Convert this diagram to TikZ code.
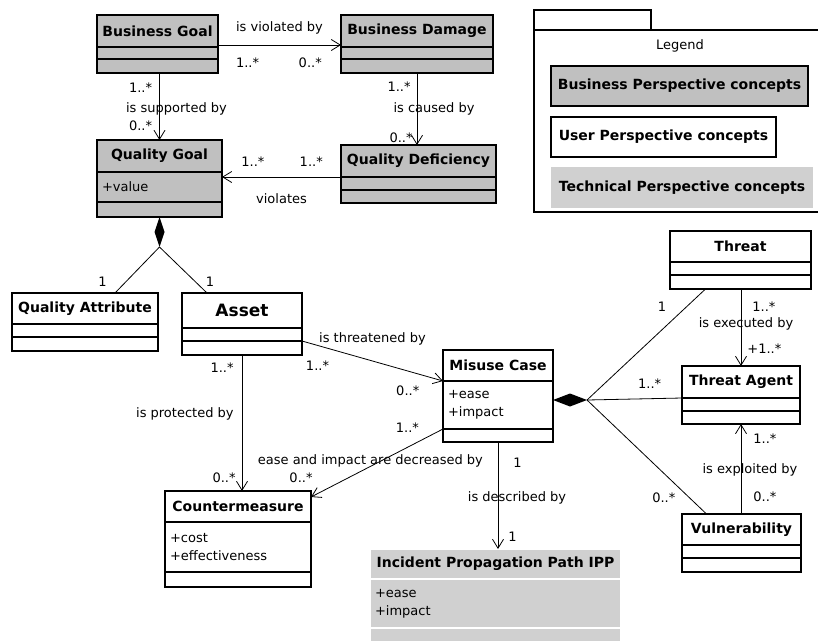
\documentclass[tikz,border=0pt]{standalone}
\usepackage{fontspec}
\setmainfont{DejaVu Sans}
\usetikzlibrary{arrows.meta,positioning,shapes.geometric}

\definecolor{bizgray}{RGB}{192,192,192}
\definecolor{techgray}{RGB}{208,208,208}

\begin{document}
\begin{tikzpicture}[x=1pt, y=-1pt, >={Straight Barb[length=9pt,width=11pt]},
    font=\fontsize{13}{15}\selectfont,
    cls/.style={draw, line width=1.2pt, anchor=north west, inner sep=0pt, outer sep=0pt,
      font=\fontsize{14}{16}\selectfont\bfseries},
    part/.style={draw, line width=1.2pt, inner sep=0pt, outer sep=0pt},
    attr/.style={part, inner xsep=5pt, align=left, font=\fontsize{13}{18}\selectfont},
    assoc/.style={line width=0.8pt},
    lbl/.style={inner sep=1pt},
    comp/.style={diamond, fill=black, inner sep=0pt, outer sep=0pt}]

  \useasboundingbox (0,0) rectangle (818,640);

  % business perspective
  \node[cls, fill=bizgray, minimum width=121pt, minimum height=32pt] (bgoal) at (97,15) {Business Goal};
  \node[part, fill=bizgray, minimum width=121pt, minimum height=12pt, below=0pt of bgoal] (bgoal1) {};
  \node[part, fill=bizgray, minimum width=121pt, minimum height=14pt, below=0pt of bgoal1] (bgoal2) {};

  \node[cls, fill=bizgray, minimum width=152pt, minimum height=32pt] (bdamage) at (341,15) {Business Damage};
  \node[part, fill=bizgray, minimum width=152pt, minimum height=12pt, below=0pt of bdamage] (bdamage1) {};
  \node[part, fill=bizgray, minimum width=152pt, minimum height=14pt, below=0pt of bdamage1] (bdamage2) {};

  \node[cls, fill=bizgray, minimum width=125pt, minimum height=32pt] (qgoal) at (97,140) {Quality Goal};
  \node[attr, fill=bizgray, text width=115pt, minimum height=30pt, below=0pt of qgoal] (qgoal1) {+value};
  \node[part, fill=bizgray, minimum width=125pt, minimum height=15pt, below=0pt of qgoal1] (qgoal2) {};

  \node[cls, fill=bizgray, minimum width=155pt, minimum height=32pt] (qdef) at (341,145) {Quality Deficiency};
  \node[part, fill=bizgray, minimum width=155pt, minimum height=13pt, below=0pt of qdef] (qdef1) {};
  \node[part, fill=bizgray, minimum width=155pt, minimum height=13pt, below=0pt of qdef1] (qdef2) {};

  % user perspective
  \node[cls, minimum width=146pt, minimum height=31pt] (qattr) at (12,293) {Quality Attribute};
  \node[part, minimum width=146pt, minimum height=13pt, below=0pt of qattr] (qattr1) {};
  \node[part, minimum width=146pt, minimum height=14pt, below=0pt of qattr1] (qattr2) {};

  \node[cls, minimum width=120pt, minimum height=35pt, font=\fontsize{17}{19}\selectfont\bfseries] (asset) at (182,293) {Asset};
  \node[part, minimum width=120pt, minimum height=13pt, below=0pt of asset] (asset1) {};
  \node[part, minimum width=120pt, minimum height=14pt, below=0pt of asset1] (asset2) {};

  \node[cls, minimum width=110pt, minimum height=31pt] (mcase) at (443,350) {Misuse Case};
  \node[attr, text width=100pt, minimum height=48pt, below=0pt of mcase] (mcase1) {+ease\\+impact};
  \node[part, minimum width=110pt, minimum height=13pt, below=0pt of mcase1] (mcase2) {};

  \node[cls, minimum width=146pt, minimum height=31pt] (cmeasure) at (165,491) {Countermeasure};
  \node[attr, text width=136pt, minimum height=50pt, below=0pt of cmeasure] (cmeasure1) {+cost\\+effectiveness};
  \node[part, minimum width=146pt, minimum height=15pt, below=0pt of cmeasure1] (cmeasure2) {};

  \node[cls, minimum width=141pt, minimum height=31pt] (threat) at (670,231) {Threat};
  \node[part, minimum width=141pt, minimum height=13pt, below=0pt of threat] (threat1) {};
  \node[part, minimum width=141pt, minimum height=14pt, below=0pt of threat1] (threat2) {};

  \node[cls, minimum width=118pt, minimum height=32pt] (tagent) at (682,366) {Threat Agent};
  \node[part, minimum width=118pt, minimum height=13pt, below=0pt of tagent] (tagent1) {};
  \node[part, minimum width=118pt, minimum height=13pt, below=0pt of tagent1] (tagent2) {};

  \node[cls, minimum width=119pt, minimum height=31pt] (vuln) at (682,514) {Vulnerability};
  \node[part, minimum width=119pt, minimum height=13pt, below=0pt of vuln] (vuln1) {};
  \node[part, minimum width=119pt, minimum height=14pt, below=0pt of vuln1] (vuln2) {};

  % technical perspective
  \node[cls, draw=white, fill=techgray, minimum width=251pt, minimum height=30pt] (ipp) at (370,549) {Incident Propagation Path IPP};
  \node[attr, draw=white, fill=techgray, text width=241pt, minimum height=49pt, below=0pt of ipp] (ipp1) {+ease\\+impact};
  \node[part, draw=white, fill=techgray, minimum width=251pt, minimum height=20pt, below=0pt of ipp1] (ipp2) {};

  % legend
  \draw[line width=1.2pt] (534,30) rectangle (651,10);
  \draw[line width=1.2pt] (822,30) -- (534,30) -- (534,212) -- (822,212);
  \node (legtitle) at (680,46) {Legend};
  \node[cls, fill=bizgray, minimum width=257pt, minimum height=40pt] (legbiz) at (551,66) {Business Perspective concepts};
  \node[cls, minimum width=225pt, minimum height=40pt] (legusr) at (551,117) {User Perspective concepts};
  \node[cls, draw=none, fill=techgray, minimum width=262pt, minimum height=41pt] (legtech) at (551,167) {Technical Perspective concepts};

  % diamonds
  \node[comp, minimum width=10pt, minimum height=30pt, below=0pt of qgoal2] (qgdia) {};
  \node[comp, minimum width=34pt, minimum height=13pt, right=0pt of mcase1, yshift=5pt] (mcdia) {};

  % associations
  \draw[assoc, ->] ([yshift=2pt]bgoal.south east) -- ([yshift=2pt]bdamage.south west)
    node[lbl, pos=.5, above=9pt] {is violated by}
    node[lbl, pos=.24, below=11pt] {1..*}
    node[lbl, pos=.75, below=11pt] {0..*};
  \draw[assoc, ->] (bgoal2.south -| qgoal.north) -- (qgoal.north)
    node[lbl, pos=.22, left=6pt] {1..*}
    node[lbl, pos=.54, xshift=17pt] {is supported by}
    node[lbl, pos=.79, left=6pt] {0..*};
  \draw[assoc, ->] (bdamage2.south) -- (qdef.north -| bdamage2.south)
    node[lbl, pos=.19, left=5pt] {1..*}
    node[lbl, pos=.5, xshift=17pt] {is caused by}
    node[lbl, pos=.9, left=3pt] {0..*};
  \draw[assoc, ->] (qdef.south west) -- (qdef.south west -| qgoal.east)
    node[lbl, pos=.25, above=9pt] {1..*}
    node[lbl, pos=.74, above=9pt] {1..*}
    node[lbl, pos=.5, below=15pt] {violates};

  \draw[assoc] (qgdia.south) -- ([xshift=30pt]qattr.north)
    node[lbl, at end, anchor=south east, xshift=-7pt, yshift=5pt] {1};
  \draw[assoc] (qgdia.south) -- ([xshift=-35pt]asset.north)
    node[lbl, at end, anchor=south, xshift=3pt, yshift=5pt] {1};

  \draw[assoc, ->] (asset1.south east) -- (mcase.south west)
    node[lbl, pos=.5, above=14pt] {is threatened by}
    node[lbl, pos=.11, below=14pt] {1..*}
    node[lbl, pos=.75, below=13pt] {0..*};
  \draw[assoc, ->] (asset2.south) -- (cmeasure.north -| asset2.south)
    node[lbl, pos=.09, left=7pt] {1..*}
    node[lbl, pos=.43, left=7pt] {is protected by}
    node[lbl, pos=.9, left=5pt] {0..*};
  \draw[assoc, ->] (mcase1.south west) -- ([yshift=-6pt]cmeasure.north east)
    node[lbl, pos=.27, above=13pt] {1..*}
    node[lbl, pos=.55, yshift=5pt] {ease and impact are decreased by}
    node[lbl, at end, anchor=south, xshift=-10pt, yshift=13pt] {0..*};
  \draw[assoc, ->] (mcase2.south) -- (ipp.north -| mcase2.south)
    node[lbl, pos=.19, right=14pt] {1}
    node[lbl, pos=.52, xshift=19pt] {is described by}
    node[lbl, pos=.89, right=9pt] {1};

  \draw[assoc, ->] (threat2.south -| tagent.north) -- (tagent.north)
    node[lbl, pos=.23, right=10pt] {1..*}
    node[lbl, pos=.45, xshift=5pt] {is executed by}
    node[lbl, pos=.77, right=5pt] {+1..*};
  \draw[assoc, ->] (vuln.north -| tagent2.south) -- (tagent2.south)
    node[lbl, pos=.84, right=11pt] {1..*}
    node[lbl, pos=.49, xshift=9pt] {is exploited by}
    node[lbl, pos=.19, right=11pt] {0..*};

  \draw[assoc] ([xshift=-35pt]threat2.south) -- (mcdia.east)
    node[lbl, pos=.16, left=19pt] {1};
  \draw[assoc] (tagent.south west) -- (mcdia.east)
    node[lbl, pos=.34, above=9pt] {1..*};
  \draw[assoc] ([xshift=-35pt]vuln.north) -- (mcdia.east)
    node[lbl, pos=.14, left=13pt] {0..*};
\end{tikzpicture}
\end{document}
